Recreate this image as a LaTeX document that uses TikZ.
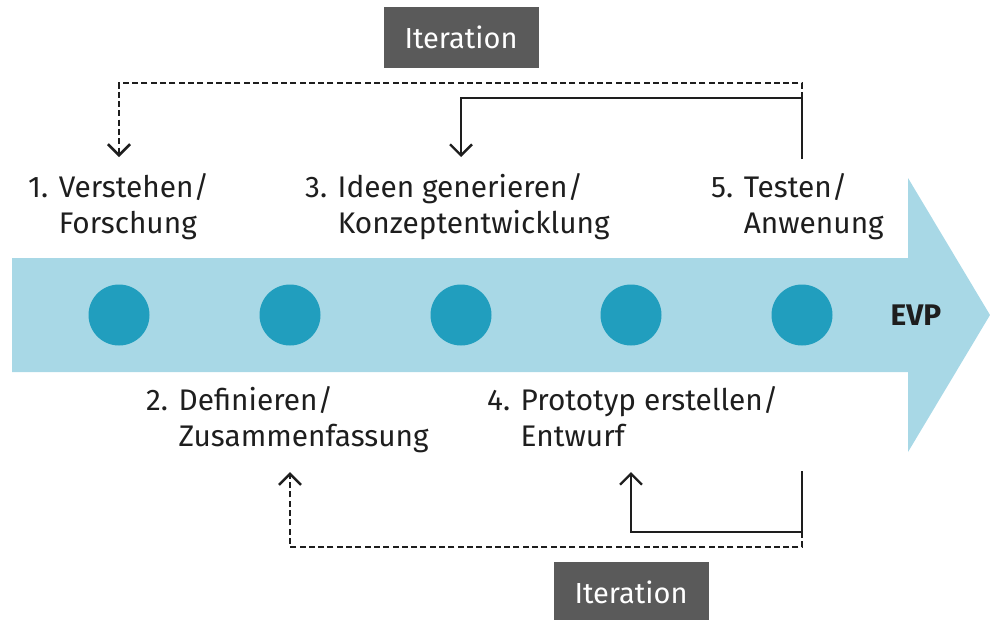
\documentclass[tikz,border=0pt]{standalone}
\usepackage{fontspec}
\setmainfont{Fira Sans}
\usetikzlibrary{arrows.meta}

\definecolor{flow}{HTML}{A8D8E6}
\definecolor{stage}{HTML}{219EBE}
\definecolor{tagfill}{HTML}{5A5A5A}
\definecolor{ink}{HTML}{1E1E1E}

% numbered stage caption: number, first line, second line (indented under the first)
\newcommand\stagecaption[3]{\begin{tabular}[t]{@{}l@{ }l@{}}#1&#2\\&#3\end{tabular}}

\tikzset{
  stagedot/.style={circle, fill=stage, minimum size=61pt, inner sep=0pt},
  caption/.style={anchor=base west, inner sep=0pt, text=ink,
    font=\fontsize{29.8}{36.5}\selectfont},
  tagbox/.style={fill=tagfill, text=white, minimum width=155pt, minimum height=61pt,
    inner sep=0pt, font=\fontsize{29}{32}\selectfont},
  loopline/.style={draw=ink, line width=2.4pt,
    -{Straight Barb[length=11pt,width=22pt]}},
  looplinedash/.style={loopline, line width=2.6pt, dash pattern=on 6pt off 3.3pt},
}

\begin{document}
\begin{tikzpicture}[x=1pt,y=-1pt]
\clip (0,0) rectangle (990,619);

% main process arrow
\fill[flow] (12,258) -- (908,258) -- (908,178) -- (990,315) -- (908,452)
  -- (908,372) -- (12,372) -- cycle;

% stages
\node[stagedot] (s1) at (119,315) {};
\node[stagedot] (s2) at (290,315) {};
\node[stagedot] (s3) at (461,315) {};
\node[stagedot] (s4) at (631,315) {};
\node[stagedot] (s5) at (802,315) {};
\node[font=\fontsize{29.8}{32}\selectfont\bfseries, text=ink] (evp) at (916,315) {EVP};

% stage captions
\node[caption] (c1) at (28,197)  {\stagecaption{1.}{Verstehen/}{Forschung}};
\node[caption] (c3) at (305,197) {\stagecaption{3.}{Ideen generieren/}{Konzeptentwicklung}};
\node[caption] (c5) at (711,197) {\stagecaption{5.}{Testen/}{Anwenung}};
\node[caption] (c2) at (146,410) {\stagecaption{2.}{Definieren/}{Zusammenfassung}};
\node[caption] (c4) at (487,410) {\stagecaption{4.}{Prototyp erstellen/}{Entwurf}};

% iteration tags
\node[tagbox] (itTop) at (s3 |- 0,37.5) {Iteration};
\node[tagbox] (itBot) at (s4 |- 0,592.5) {Iteration};

% iteration loops above the arrow
\draw[loopline] (s5 |- 0,159) |- (s3 |- 0,98) -- (s3 |- 0,157);
\draw[looplinedash] (s5 |- 0,98) |- (s1 |- 0,83) -- (s1 |- 0,157);

% iteration loops below the arrow
\draw[loopline] (s5 |- 0,471) |- (s4 |- 0,532) -- (s4 |- 0,472);
\draw[looplinedash] (s5 |- 0,532) |- (s2 |- 0,547) -- (s2 |- 0,472);
\end{tikzpicture}
\end{document}
